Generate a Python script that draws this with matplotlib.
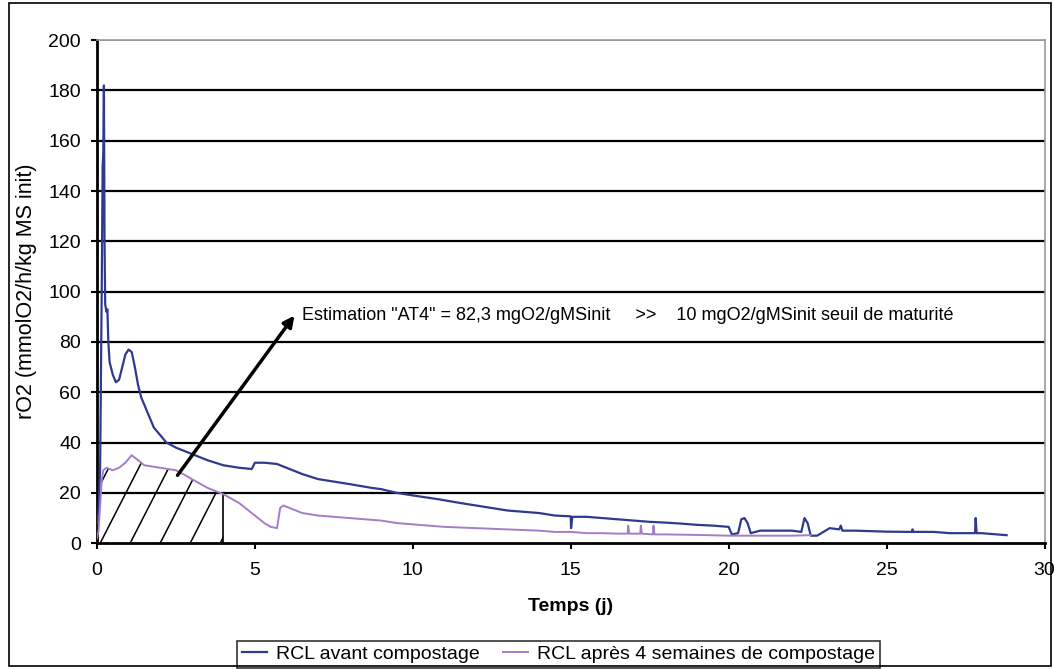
"""
Respiration rO2 before / after composting, with the AT4 estimate (hatched area).
"""

import numpy as np
import matplotlib.pyplot as plt
from matplotlib.patches import Rectangle, Polygon

plt.rcParams['font.family'] = ['Liberation Sans', 'DejaVu Sans']

# RCL avant compostage (time in days, rO2)
avant_t = [0.0, 0.05, 0.1, 0.15, 0.18, 0.2, 0.22, 0.24, 0.26, 0.3, 0.33, 0.36, 0.4, 0.5,
           0.6, 0.7, 0.8, 0.9, 1.0, 1.1, 1.2, 1.3, 1.4, 1.6, 1.8, 2.0, 2.2, 2.5, 3.0, 3.5,
           4.0, 4.5, 4.9, 5.0, 5.3, 5.7, 6.0, 6.5, 7.0, 7.5, 8.0, 8.7, 9.0, 9.5, 10.0,
           10.8, 11.5, 12.0, 12.5, 13.0, 13.5, 14.0, 14.5, 15.0, 15.01, 15.05, 15.5, 16.0,
           16.5, 17.0, 17.5, 18.0, 18.5, 19.0, 19.5, 20.0, 20.1, 20.3, 20.4, 20.5, 20.6,
           20.7, 21.0, 21.5, 22.0, 22.3, 22.4, 22.5, 22.6, 22.8, 23.0, 23.2, 23.5, 23.55,
           23.6, 24.0, 25.0, 25.8, 25.82, 25.85, 26.5, 27.0, 27.5, 27.8, 27.82, 27.85,
           28.0, 28.5, 28.8]
avant_r = [8, 12, 30, 100, 150, 155, 182, 120, 95, 92, 93, 80, 72, 67,
           64, 65, 70, 75, 77, 76, 70, 63, 58, 52, 46, 43, 40, 38, 35.5, 33,
           31, 30, 29.5, 32, 32, 31.5, 30, 27.5, 25.5, 24.5, 23.5, 22, 21.5, 20, 19,
           17.5, 16, 15, 14, 13, 12.5, 12, 11, 10.7, 6, 10.5, 10.5, 10,
           9.5, 9, 8.5, 8.2, 7.8, 7.3, 7, 6.5, 3.5, 4, 9.5, 10, 8,
           4, 5, 5, 5, 4.5, 10, 8, 3, 3, 4.5, 6, 5.5, 7,
           5, 5, 4.6, 4.5, 5.5, 4.5, 4.5, 4, 4, 4, 10, 4,
           4, 3.5, 3.2]

# RCL apres 4 semaines de compostage
apres_t = [0.0, 0.05, 0.1, 0.15, 0.2, 0.3, 0.5, 0.7, 0.9, 1.1, 1.3, 1.5, 2.0, 2.5, 2.8,
           3.0, 3.5, 4.0, 4.5, 5.0, 5.3, 5.5, 5.7, 5.8, 5.9, 6.2, 6.5, 7.0, 7.5, 8.0,
           8.5, 9.0, 9.5, 10.0, 10.5, 11.0, 12.0, 13.0, 14.0, 14.5, 15.0, 15.5, 16.0,
           16.5, 16.8, 16.82, 16.85, 17.2, 17.22, 17.25, 17.6, 17.62, 17.65, 18.0, 19.0,
           20.0, 21.0, 22.0, 22.6]
apres_r = [2, 5, 15, 25, 29, 30, 29, 30, 32, 35, 33, 31, 30, 29, 27,
           25.5, 22, 19.5, 16, 11, 8, 6.5, 6, 14, 15, 13.5, 12, 11, 10.5, 10,
           9.5, 9, 8, 7.5, 7, 6.5, 6, 5.5, 5, 4.5, 4.5, 4, 4,
           3.8, 3.8, 7, 3.8, 3.8, 7, 3.8, 3.5, 7, 3.5, 3.5, 3.3,
           3, 3, 3, 3.2]

at4_end = 4.0
arrow_start = (2.55, 27)
arrow_end = (6.25, 90.5)
note = 'Estimation "AT4" = 82,3 mgO2/gMSinit     >>    10 mgO2/gMSinit seuil de maturité'

x_ticks = [0, 5, 10, 15, 20, 25, 30]
y_ticks = list(range(0, 201, 20))

fig = plt.figure(figsize=(10.54, 6.69), dpi=100)
ax = fig.add_axes([0.092, 0.188, 0.899, 0.752])

# horizontal gridlines
for yv in y_ticks[1:-1]:
    ax.axhline(yv, color='black', linewidth=1.6, zorder=1)
ax.axhline(200, color='#999999', linewidth=1.2, zorder=1)

blue = '#2E3A8E'
purple = '#A57CC8'
ax.plot(avant_t, avant_r, color=blue, linewidth=1.6, zorder=3, label='RCL avant compostage')
ax.plot(apres_t, apres_r, color=purple, linewidth=1.4, zorder=3,
        label='RCL après 4 semaines de compostage')

# hatched area under the second curve up to day 4 (steep hatch drawn by hand, clipped)
t_fill = np.array([t for t in apres_t if t <= at4_end] + [at4_end])
r_fill = np.interp(t_fill, apres_t, apres_r)
area = Polygon(np.column_stack([np.r_[t_fill, at4_end, 0], np.r_[r_fill, 0, 0]]),
               closed=True, facecolor='none', edgecolor='none')
ax.add_patch(area)
hatch_rise = 24.5  # rO2 units per day along a hatch line
for x0 in np.arange(-3.7, at4_end, 0.95):
    hl, = ax.plot([x0, x0 + 60 / hatch_rise], [0, 60], color='black', linewidth=1.1, zorder=2)
    hl.set_clip_path(area)
ax.vlines(at4_end, 0, np.interp(at4_end, apres_t, apres_r), color='black', linewidth=1.2, zorder=2)

ax.annotate('', xy=arrow_end, xytext=arrow_start,
            arrowprops=dict(arrowstyle='-|>', color='black', lw=2.5, mutation_scale=16,
                            shrinkA=0, shrinkB=0), zorder=4)
ax.text(arrow_end[0] + 0.25, arrow_end[1], note, fontsize=13, va='center', ha='left')

ax.set_xlim(0, 30)
ax.set_ylim(0, 200)
ax.set_xticks(x_ticks)
ax.set_yticks(y_ticks)
ax.tick_params(axis='both', direction='out', length=4.5, width=1.5, labelsize=14)
ax.tick_params(axis='y', pad=7)
ax.tick_params(axis='x', pad=9)
for side in ['left', 'bottom']:
    ax.spines[side].set_linewidth(2)
for side in ['top', 'right']:
    ax.spines[side].set_color('#999999')
    ax.spines[side].set_linewidth(1.2)

ax.set_xlabel('Temps (j)', fontsize=14, fontweight='bold', labelpad=14)
ax.set_ylabel('rO2 (mmolO2/h/kg MS init)', fontsize=15.5, labelpad=8)

leg = ax.legend(loc='lower left', bbox_to_anchor=(0.2249, 0.0015),
                bbox_transform=fig.transFigure, ncol=2, fontsize=14,
                frameon=True, fancybox=False, edgecolor='black', handlelength=1.3,
                handletextpad=0.45, columnspacing=1.2, borderpad=0.25, borderaxespad=0)
leg.get_frame().set_linewidth(1.2)

# outer chart border
fig.patches.append(Rectangle((0.009, 0.004), 0.988, 0.992, transform=fig.transFigure,
                             fill=False, edgecolor='black', linewidth=1.2))

plt.savefig('out.png', dpi=100)
plt.close()
